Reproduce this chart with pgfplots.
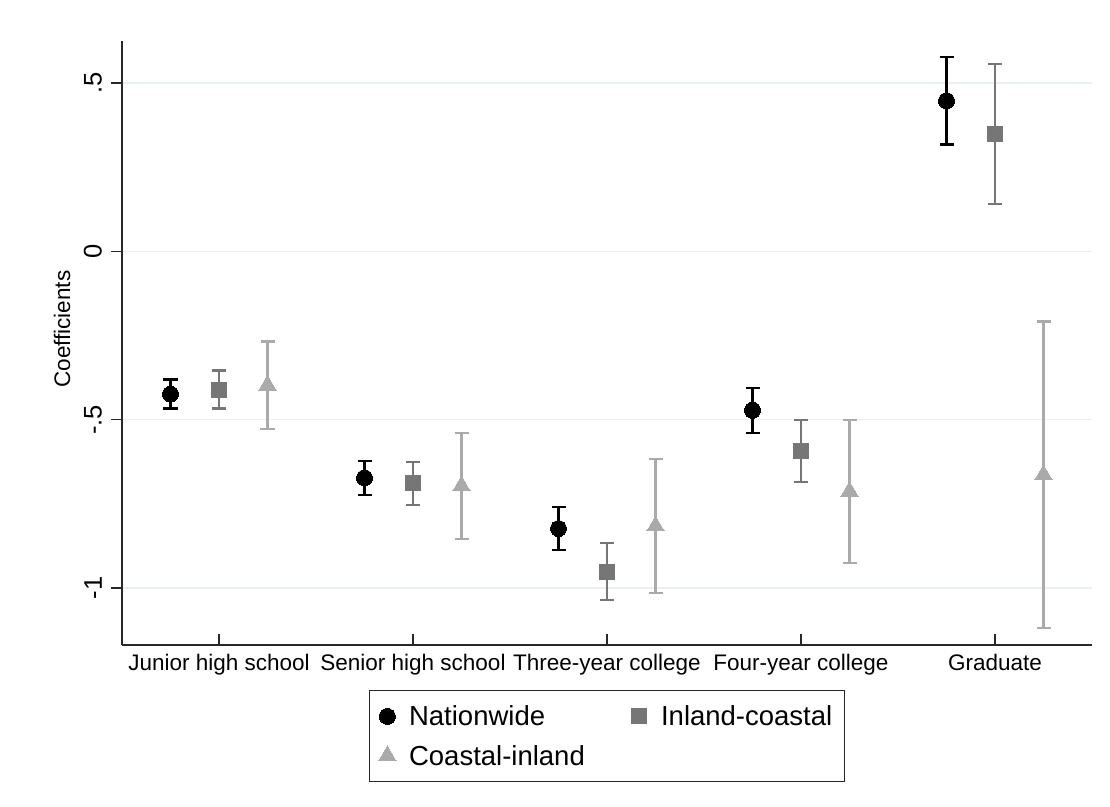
\documentclass[border=0pt]{standalone}
\usepackage{pgfplots}
\pgfplotsset{compat=1.18}
\usepackage{fontspec}
\setmainfont{Liberation Sans}
\definecolor{cN}{RGB}{0,0,0}
\definecolor{cI}{RGB}{118,118,118}
\definecolor{cC}{RGB}{170,170,170}
\definecolor{gridc}{RGB}{232,240,241}
\definecolor{axc}{RGB}{40,40,40}
\begin{document}
\begin{tikzpicture}
\begin{axis}[
  scale only axis,
  width=970bp, height=604bp,
  xmin=0.5, xmax=5.5,
  ymin=-1.169, ymax=0.625,
  axis lines*=left,
  axis line style={axc, line width=1.4bp},
  xtick={1,2,3,4,5},
  xticklabels={Junior high school,Senior high school,Three-year college,Four-year college,Graduate},
  ytick={-1,-0.5,0,0.5},
  yticklabels={-1,-.5,0,.5},
  major tick length=11bp,
  xtick align=inside,
  ytick align=outside,
  tick style={axc, line width=1.4bp},
  ymajorgrids=true,
  grid style={gridc, line width=1.4bp},
  xticklabel style={font=\fontsize{22.5bp}{27bp}\selectfont, inner sep=0pt, anchor=north, yshift=-9bp},
  yticklabel style={font=\fontsize{25.5bp}{30bp}\selectfont, inner sep=0pt, rotate=90, anchor=south},
  yticklabel shift=9bp,
  ylabel={Coefficients},
  every axis y label/.style={at={(axis description cs:-0.053,0.523)}, rotate=90, anchor=south, inner sep=0pt, font=\fontsize{22.5bp}{27bp}\selectfont},
  legend columns=2,
  legend cell align=left,
  legend style={at={(axis description cs:0.5,-0.0745)}, anchor=north,
    draw=axc, line width=1.4bp,
    font=\fontsize{27.5bp}{33bp}\selectfont,
    inner xsep=9bp, inner ysep=12bp, row sep=12bp,
    /tikz/every even column/.append style={column sep=44bp},
    nodes={inner sep=3bp}},
  legend image code/.code={\draw[#1, only marks, mark repeat=2, mark phase=2] plot coordinates {(0bp,0bp) (8bp,0bp) (16bp,0bp)}; \path (26bp,0bp);},
  error bars/error mark=|,
  error bars/error bar style={line width=2.4bp},
  error bars/error mark options={mark size=7bp, line width=2.4bp},
]
\addplot[only marks, mark=*, mark size=8bp, color=cN, mark options={draw=cN, fill=cN, line width=0pt},
  error bars/.cd, y dir=both, y explicit, error bar style={color=cN}]
  table[x=x, y=y, y error=e] {
x y e
0.75 -0.424 0.043
1.75 -0.6725 0.0505
2.75 -0.823 0.064
3.75 -0.472 0.067
4.75 0.4475 0.1295
};
\addlegendentry{Nationwide}
\addplot[only marks, mark=square*, mark size=7.5bp, color=cI, mark options={draw=cI, fill=cI, line width=0pt},
  error bars/.cd, y dir=both, y explicit, error bar style={color=cI}]
  table[x=x, y=y, y error=e] {
x y e
1 -0.4105 0.0565
2 -0.689 0.064
3 -0.951 0.085
4 -0.5925 0.0925
5 0.3485 0.2085
};
\addlegendentry{Inland-coastal}
\addplot[only marks, mark=triangle*, mark size=10bp, color=cC, mark options={draw=cC, fill=cC, line width=0pt},
  error bars/.cd, y dir=both, y explicit, error bar style={color=cC}]
  table[x=x, y=y, y error=e] {
x y e
1.25 -0.3975 0.1295
2.25 -0.6965 0.1575
3.25 -0.8155 0.1995
4.25 -0.713 0.213
5.25 -0.6635 0.4555
};
\addlegendentry{Coastal-inland}
\end{axis}
\pgfresetboundingbox
\useasboundingbox (-122bp,-162bp) rectangle (988bp,645bp);
\end{tikzpicture}
\end{document}
